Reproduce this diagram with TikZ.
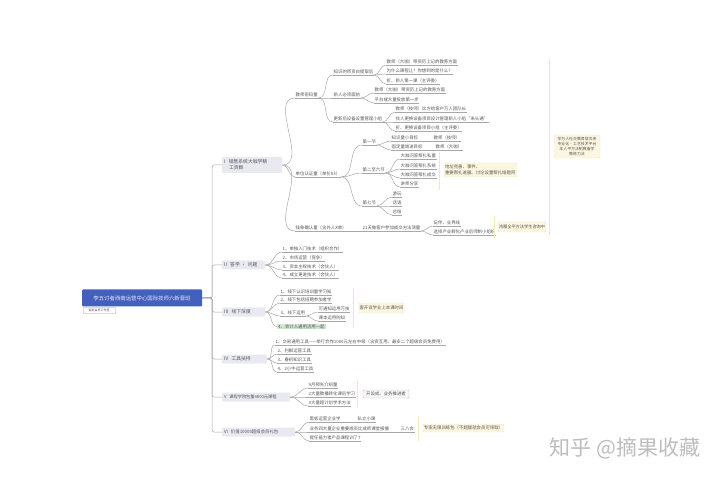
\documentclass[tikz,border=0pt]{standalone}
\usepackage{fontspec}
\setmainfont{Noto Sans CJK SC}
\usetikzlibrary{shapes,arrows,positioning}
\definecolor{txtgray}{HTML}{555555}
\definecolor{linegray}{HTML}{A8A8A8}
\definecolor{notefill}{HTML}{FCF6E0}
\definecolor{noteline}{HTML}{F3E8BC}
\definecolor{branchfill}{HTML}{E9EAF1}
\definecolor{rootblue}{HTML}{4460BE}
\newcommand{\itemfont}{\fontsize{4.4}{5.4}\selectfont}
\tikzstyle{line} = [draw, linegray, line width=0.5pt]
\tikzstyle{fork} = [draw, noteline, line width=1pt]
\tikzstyle{item} = [anchor=south west, inner xsep=0.5pt, inner ysep=0.7pt, text=txtgray, font=\itemfont, append after command={(\tikzlastnode.south west) edge [line] (\tikzlastnode.south east)}]
\tikzstyle{branch} = [fill=branchfill, rounded corners=1pt, anchor=west, inner xsep=2pt, inner ysep=1pt, text=txtgray, font=\fontsize{4.8}{5.8}\selectfont, align=left]
\tikzstyle{note} = [fill=notefill, draw=noteline, rounded corners=1pt, inner sep=0.5pt, text=txtgray, font=\itemfont, align=center]

\begin{document}
\begin{tikzpicture}[x=1pt, y=-1pt]
	\useasboundingbox (0,0) rectangle (720,478);

	\node [fill=rootblue, rounded corners=1pt, minimum width=120pt, minimum height=17pt, inner sep=0pt, text=white!85!rootblue, font=\fontsize{5.4}{6.4}\selectfont] (root) at (142,298) {李五讨者西南运营中心国际技师六新晋班};
	\node [draw=black!15, fill=white, minimum width=32pt, minimum height=6pt, inner sep=0pt, text=txtgray, font=\fontsize{3}{3.6}\selectfont] (tag) at (99,310) {智能会员工作室};

	% branches
	\node [branch, minimum height=16pt, text width=56pt] (b1) at (222,165) {I \ 销售系统大咖学精\\\ \ \ 工资群};
	\node [branch, minimum height=9pt, text width=39pt] (b2) at (222,265) {II \ 答学 · 问题};
	\node [branch, minimum height=9pt, text width=39pt] (b3) at (222,312) {III \ 线下深度};
	\node [branch, minimum height=9pt, text width=41pt] (b4) at (222,359) {IV \ 工具扶持};
	\node [branch, minimum height=9pt, text width=64pt, font=\fontsize{4.2}{5.2}\selectfont] (b5) at (222,397) {V \ 课程学院包量4800元课程};
	\node [branch, minimum height=9pt, text width=69pt, font=\fontsize{4.4}{5.4}\selectfont] (b6) at (222,432) {VI \ 价值10000超级会员礼包};

	\path [line, rounded corners=2pt] (root.east) -- ++(10,0) |- (b1.west);
	\path [line, rounded corners=2pt] (root.east) -- ++(10,0) |- (b2.west);
	\path [line, rounded corners=2pt] (root.east) -- ++(10,0) |- (b3.west);
	\path [line, rounded corners=2pt] (root.east) -- ++(10,0) |- (b4.west);
	\path [line, rounded corners=2pt] (root.east) -- ++(10,0) |- (b5.west);
	\path [line, rounded corners=2pt] (root.east) -- ++(10,0) |- (b6.west);

	% I
	\node [item] (a1) at (295,98) {教师密码量};
	\node [item] (a2) at (295,177) {单位认证量（单价X3）};
	\node [item] (a3) at (295,231) {钱象确认量（含外人X单）};
	\path [line] (b1.east) to [out=0, in=180] (a1.south west);
	\path [line] (b1.east) to [out=0, in=180] (a2.south west);
	\path [line] (b1.east) to [out=0, in=180] (a3.south west);

	\node [item] (a11) at (333,75) {知识的师资白提取后};
	\node [item] (a12) at (333,98) {新人必须面前};
	\node [item] (a13) at (333,122) {更新后设备设置管理小组};
	\path [line] (a1.south east) to [out=0, in=180] (a11.south west);
	\path [line] (a1.south east) to [out=0, in=180] (a12.south west);
	\path [line] (a1.south east) to [out=0, in=180] (a13.south west);

	\node [item] (a111) at (386,65) {教师（大咖）带资历上记的教育方面};
	\node [item] (a112) at (386,74) {为什么课程让？你想到的是什么？};
	\node [item] (a113) at (386,84) {折、新人第一课（主评委）};
	\path [line] (a11.south east) to [out=0, in=180] (a111.south west);
	\path [line] (a11.south east) to [out=0, in=180] (a112.south west);
	\path [line] (a11.south east) to [out=0, in=180] (a113.south west);

	\node [item] (a121) at (374,93) {教师（大咖）带资历上记的教育方面};
	\node [item] (a122) at (374,103) {平台或大量投放第一步};
	\path [line] (a12.south east) to [out=0, in=180] (a121.south west);
	\path [line] (a12.south east) to [out=0, in=180] (a122.south west);

	\node [item] (a131) at (395,112) {教师（技师）比方给客户万人团队长};
	\node [item] (a132) at (395,122) {找人更换设备项目设计管理新人小组“来头通”};
	\node [item] (a133) at (395,131) {折、更换设备项目小组（主评委）};
	\path [line] (a13.south east) to [out=0, in=180] (a131.south west);
	\path [line] (a13.south east) to [out=0, in=180] (a132.south west);
	\path [line] (a13.south east) to [out=0, in=180] (a133.south west);

	\node [item] (a21) at (362,145) {第一节};
	\node [item] (a22) at (362,173) {第二至六节};
	\node [item] (a23) at (362,206) {第七节};
	\path [line] (a2.south east) to [out=0, in=180] (a21.south west);
	\path [line] (a2.south east) to [out=0, in=180] (a22.south west);
	\path [line] (a2.south east) to [out=0, in=180] (a23.south west);

	\node [item] (a211) at (391,141) {知识量小目标};
	\node [item] (a211x) at (433,141) {教师（技师）};
	\node [item] (a212) at (391,150) {固定量增进目标};
	\node [item] (a212x) at (435,150) {教师（大咖）};
	\path [line] (a21.south east) to [out=0, in=180] (a211.south west);
	\path [line] (a21.south east) to [out=0, in=180] (a212.south west);
	\path [line] (a211.south east) -- (a211x.south west);
	\path [line] (a212.south east) -- (a212x.south west);

	\node [item] (a221) at (400,159) {大咖问答帮扎私董};
	\node [item] (a222) at (400,169) {大咖问答帮扎系统};
	\node [item] (a223) at (400,178) {大咖问答帮扎成交};
	\node [item] (a224) at (400,187) {讲师分享};
	\path [line] (a22.south east) to [out=0, in=180] (a221.south west);
	\path [line] (a22.south east) to [out=0, in=180] (a222.south west);
	\path [line] (a22.south east) to [out=0, in=180] (a223.south west);
	\path [line] (a22.south east) to [out=0, in=180] (a224.south west);

	\node [item] (a231) at (392,197) {游玩};
	\node [item] (a232) at (392,206) {话语};
	\node [item] (a233) at (392,215) {总结};
	\path [line] (a23.south east) to [out=0, in=180] (a231.south west);
	\path [line] (a23.south east) to [out=0, in=180] (a232.south west);
	\path [line] (a23.south east) to [out=0, in=180] (a233.south west);

	\node [item] (a31) at (362,231) {21天做客户参加成交方法测量};
	\node [item] (a311) at (433,226) {玩伴、业界线};
	\node [item] (a312) at (433,235) {选择产业孵化产业后师制小组织};
	\path [line] (a3.south east) -- (a31.south west);
	\path [line] (a31.south east) to [out=0, in=180] (a311.south west);
	\path [line] (a31.south east) to [out=0, in=180] (a312.south west);

	% notes of I
	\coordinate (f1t) at (439,152);
	\coordinate (f1b) at (439,190);
	\path [fork] (f1t) -- (f1b);
	\node [note, minimum width=73pt, minimum height=14pt, text width=71pt, align=left] (n1) at (480.5,170) {地址完善、事件、\\重要帮扎进圈、讨论设置帮扎结题阿};
	\coordinate (f2t) at (494,217);
	\coordinate (f2b) at (494,238);
	\path [fork] (f2t) -- (f2b);
	\node [note, minimum width=48pt, minimum height=10pt, font=\fontsize{4.2}{5.2}\selectfont] (n2) at (522,227) {鸿雁全平方法学生咨询中};
	\coordinate (f3t) at (549,58);
	\coordinate (f3b) at (549,235);
	\path [fork] (f3t) -- (f3b);
	\node [note, minimum width=46pt, minimum height=23pt, font=\fontsize{3.9}{4.9}\selectfont] (n3) at (577,146.5) {学万人社交教育层次来\\专业化·工艺技术平台\\本人平方法制教备学\\教练力法};

	% II
	\node [item] (c1) at (282,252) {1、单独入门技术（组织合作）};
	\node [item] (c2) at (282,261) {2、市场运营（竞争）};
	\node [item] (c3) at (282,270) {3、资本主权技术（合伙人）};
	\node [item] (c4) at (282,278) {4、成立更进技术（合伙人）};
	\path [line] (b2.east) to [out=0, in=180] (c1.south west);
	\path [line] (b2.east) to [out=0, in=180] (c2.south west);
	\path [line] (b2.east) to [out=0, in=180] (c3.south west);
	\path [line] (b2.east) to [out=0, in=180] (c4.south west);

	% III
	\node [item] (d1) at (280,295) {1、线下认识培训量学习知};
	\node [item] (d2) at (280,303) {2、线下包括招聘参加者学};
	\node [item] (d3) at (280,316) {3、线下运用};
	\node [item] (d31) at (318,312) {可通知运用万技};
	\node [item] (d32) at (318,321) {课本运用防知};
	\node [fill=green!45!black!18, inner xsep=1pt, inner ysep=0.8pt, text=txtgray, font=\itemfont, anchor=west] (d4) at (277,326.5) {4、会计入通用活用一起};
	\path [line] (b3.east) to [out=0, in=180] (d1.south west);
	\path [line] (b3.east) to [out=0, in=180] (d2.south west);
	\path [line] (b3.east) to [out=0, in=180] (d3.south west);
	\path [line] (b3.east) to [out=0, in=180] (d4.west);
	\path [line] (d3.south east) to [out=0, in=180] (d31.south west);
	\path [line] (d3.south east) to [out=0, in=180] (d32.south west);
	\coordinate (f4t) at (353,288);
	\coordinate (f4b) at (353,327);
	\path [fork] (f4t) -- (f4b);
	\node [note, minimum width=45pt, minimum height=10pt] (n4) at (381.5,308) {客开设学业上本课时间};

	% IV
	\node [item] (e1) at (275,345) {1、交易通用工具——举行合作1000元左右中级（含资互用、最多二个超级会员免费用）};
	\node [item] (e2) at (277,354) {2、利群运营工具};
	\node [item] (e3) at (277,363) {3、春初知识工具};
	\node [item] (e4) at (277,372) {4、2小牛运营工具};
	\path [line] (b4.east) to [out=0, in=180] (e1.south west);
	\path [line] (b4.east) to [out=0, in=180] (e2.south west);
	\path [line] (b4.east) to [out=0, in=180] (e3.south west);
	\path [line] (b4.east) to [out=0, in=180] (e4.south west);

	% V
	\node [item] (g1) at (308,388) {9月预先介绍量};
	\node [item] (g2) at (308,397) {2大量教播转化课后学习};
	\node [item] (g3) at (308,406) {3大量超计划学术方法};
	\path [line] (b5.east) to [out=0, in=180] (g1.south west);
	\path [line] (b5.east) to [out=0, in=180] (g2.south west);
	\path [line] (b5.east) to [out=0, in=180] (g3.south west);
	\coordinate (f5t) at (357,381);
	\coordinate (f5b) at (357,407);
	\path [fork] (f5t) -- (f5b);
	\node [note, draw=black!25, fill=black!3, minimum width=46pt, minimum height=8pt] (n5) at (386,394) {开设成、业务推进者};

	% VI
	\node [item] (h1) at (309,422) {黑板运营企业学};
	\node [item] (h1x) at (357,422) {私立小课};
	\node [item] (h2) at (309,432) {业务四大量企业重要成员比成师课堂报播};
	\node [item] (h2x) at (400,432) {三八会};
	\node [item] (h3) at (309,441) {提任能力者产品课程训了7};
	\path [line] (b6.east) to [out=0, in=180] (h1.south west);
	\path [line] (b6.east) to [out=0, in=180] (h2.south west);
	\path [line] (b6.east) to [out=0, in=180] (h3.south west);
	\path [line] (h1.south east) -- (h1x.south west);
	\path [line] (h2.south east) -- (h2x.south west);
	\coordinate (f6t) at (418,417);
	\coordinate (f6b) at (418,441);
	\path [fork] (f6t) -- (f6b);
	\node [note, minimum width=81pt, minimum height=8pt] (n6) at (463.5,428) {专家无限训练包（不超额就会员可领取）};

	% watermark
	\node [text=black!26, font=\fontsize{21}{24}\selectfont, inner sep=0pt] (mark) at (625,448) {知乎 @摘果收藏};
\end{tikzpicture}
\end{document}
